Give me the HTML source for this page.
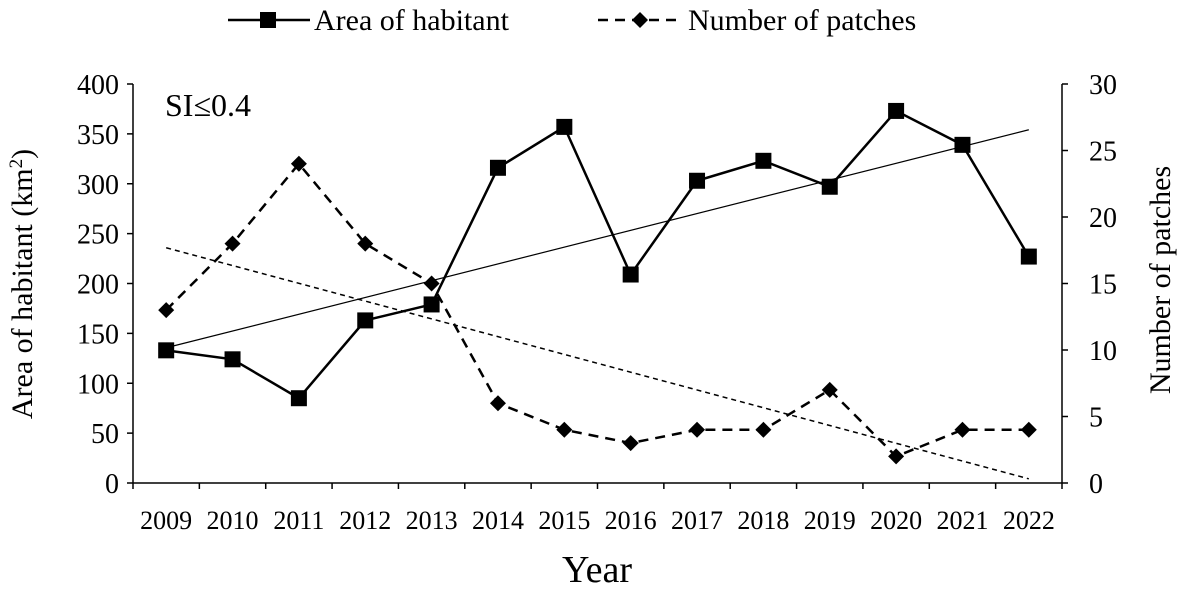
<!DOCTYPE html>
<html><head><meta charset="utf-8">
<style>
body{margin:0;background:#fff;}
svg text{font-family:"Liberation Serif",serif;fill:#000;}
</style></head>
<body>
<svg id="chart" width="1181" height="596" viewBox="0 0 1181 596" xmlns="http://www.w3.org/2000/svg"></svg>
<script>
const years=["2009","2010","2011","2012","2013","2014","2015","2016","2017","2018","2019","2020","2021","2022"];
const areaValues=[133,124,85,163,179,316,357,209,303,323,297,373,339,227];
const patchValues=[13,18,24,18,15,6,4,3,4,4,7,2,4,4];
const leftTicks=[0,50,100,150,200,250,300,350,400];
const rightTicks=[0,5,10,15,20,25,30];

const NS="http://www.w3.org/2000/svg";
const svg=document.getElementById('chart');
const L=133,R=1062,T=84,B=483;
const bw=(R-L)/years.length;
const xc=i=>L+bw*(i+0.5);
const yL=v=>B-(v/400)*(B-T);
const yR=v=>B-(v/30)*(B-T);
function mk(tag,attrs,parent){const e=document.createElementNS(NS,tag);for(const k in attrs)e.setAttribute(k,attrs[k]);(parent||svg).appendChild(e);return e;}

let a=mk('line',{x1:L,y1:T,x2:L,y2:B,stroke:'#000','stroke-width':1.5});


a=mk('line',{x1:R,y1:T,x2:R,y2:B,stroke:'#000','stroke-width':1.5});


a=mk('line',{x1:L,y1:B,x2:R,y2:B,stroke:'#000','stroke-width':1.5});



leftTicks.forEach(v=>{
  mk('line',{x1:L-6,y1:yL(v),x2:L,y2:yL(v),stroke:'#000','stroke-width':1.5});
  const t=mk('text',{x:L-14,y:yL(v)+10,'text-anchor':'end','font-size':28});
  t.textContent=v;
  
  
});
rightTicks.forEach(v=>{
  mk('line',{x1:R,y1:yR(v),x2:R+6,y2:yR(v),stroke:'#000','stroke-width':1.5});
  const t=mk('text',{x:R+27,y:yR(v)+10,'text-anchor':'start','font-size':28});
  t.textContent=v;
  
  
});
for(let i=0;i<=years.length;i++){
  const x=L+bw*i;
  mk('line',{x1:x,y1:B,x2:x,y2:B+6,stroke:'#000','stroke-width':1.5});
}
years.forEach((y,i)=>{
  const t=mk('text',{x:xc(i),y:B+46,'text-anchor':'middle','font-size':26});
  t.textContent=y;
  
  
});

function fit(vals){const n=vals.length;let sx=0,sy=0,sxy=0,sxx=0;vals.forEach((v,i)=>{sx+=i;sy+=v;sxy+=i*v;sxx+=i*i;});const m=(n*sxy-sx*sy)/(n*sxx-sx*sx);return [m,(sy-m*sx)/n];}
let [m1,b1]=fit(areaValues);
let tl=mk('line',{x1:xc(0),y1:yL(b1),x2:xc(years.length-1),y2:yL(b1+m1*(years.length-1)),stroke:'#000','stroke-width':1.2});


let [m2,b2]=fit(patchValues);
tl=mk('line',{x1:xc(0),y1:yR(b2),x2:xc(years.length-1),y2:yR(b2+m2*(years.length-1)),stroke:'#000','stroke-width':1.5,'stroke-dasharray':'5,4'});



let p=mk('polyline',{points:patchValues.map((v,i)=>xc(i)+','+yR(v)).join(' '),fill:'none',stroke:'#000','stroke-width':2.5,'stroke-dasharray':'10,7'});


patchValues.forEach((v,i)=>{
  const x=xc(i),y=yR(v),s=8;
  const d=mk('polygon',{points:`${x},${y-s} ${x+s},${y} ${x},${y+s} ${x-s},${y}`,fill:'#000'});
  
  
});
p=mk('polyline',{points:areaValues.map((v,i)=>xc(i)+','+yL(v)).join(' '),fill:'none',stroke:'#000','stroke-width':2.5});


areaValues.forEach((v,i)=>{
  const r=mk('rect',{x:xc(i)-8,y:yL(v)-8,width:16,height:16,fill:'#000'});
  
  
});

let g=mk('g',{});


mk('line',{x1:228,y1:20,x2:310,y2:20,stroke:'#000','stroke-width':2.5},g);
mk('rect',{x:260,y:12,width:16,height:16,fill:'#000'},g);
mk('text',{x:314,y:30,'font-size':30},g).textContent='Area of habitant';
g=mk('g',{});


mk('line',{x1:598,y1:20,x2:682,y2:20,stroke:'#000','stroke-width':2.5,'stroke-dasharray':'10,7'},g);
mk('polygon',{points:'640,12 648,20 640,28 632,20',fill:'#000'},g);
mk('text',{x:688,y:30,'font-size':30},g).textContent='Number of patches';

let t=mk('text',{x:165,y:116,'font-size':32});
t.textContent='SI≤0.4';


t=mk('text',{x:597,y:582,'text-anchor':'middle','font-size':38});
t.textContent='Year';


t=mk('text',{x:0,y:0,'text-anchor':'middle','font-size':30,transform:'translate(32,284) rotate(-90)'});
t.innerHTML='Area of habitant (km<tspan dy="-10" font-size="19">2</tspan><tspan dy="10">)</tspan>';


t=mk('text',{x:0,y:0,'text-anchor':'middle','font-size':30,transform:'translate(1170,280) rotate(-90)'});
t.textContent='Number of patches';


</script>
</body></html>
